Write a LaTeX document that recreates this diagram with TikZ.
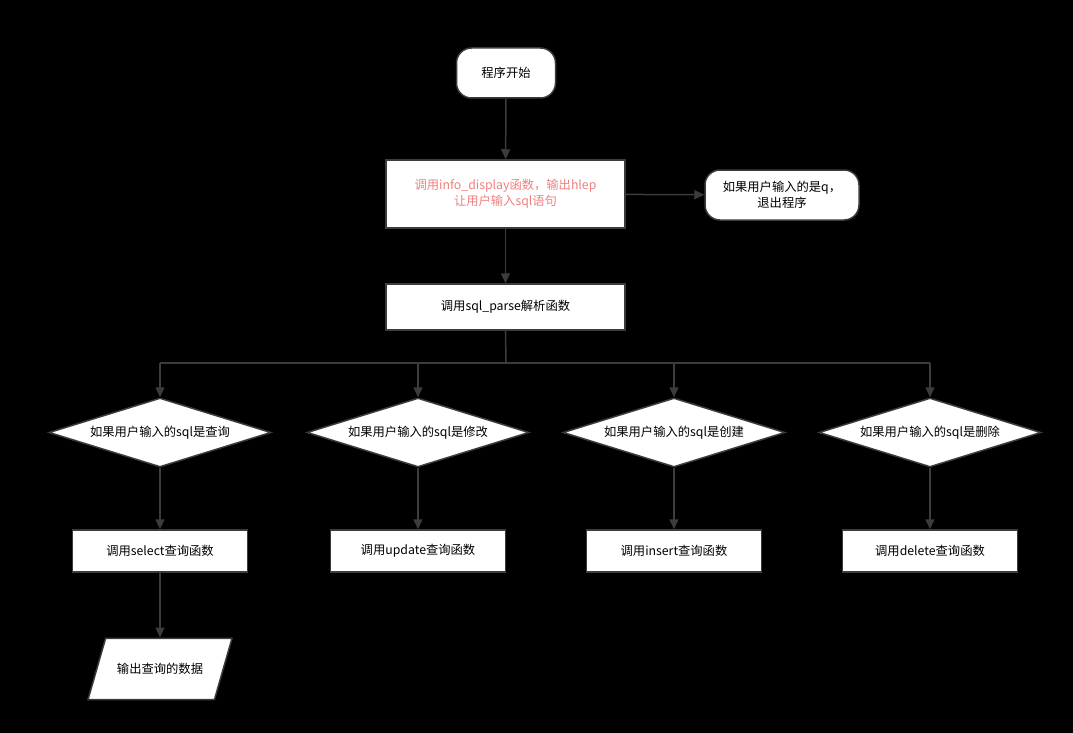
\documentclass[tikz,border=0pt]{standalone}
\usepackage{fontspec}
\setmainfont{Noto Sans CJK SC}
\usetikzlibrary{arrows.meta,shapes.geometric}
\definecolor{ln}{HTML}{3C3C3C}
\definecolor{redtxt}{HTML}{F08080}
\begin{document}
\begin{tikzpicture}[x=1pt,y=-1pt,
  every node/.style={font=\fontsize{12.3}{16}\selectfont, text=black},
  base/.style={draw=ln, line width=1.5pt, fill=white, align=center, inner sep=0pt},
  term/.style={base, rounded corners=15pt},
  proc/.style={base, rounded corners=0pt},
  dec/.style={base, diamond, aspect=3.22, minimum width=222pt, minimum height=69pt},
  io/.style={base, trapezium, trapezium left angle=74, trapezium right angle=106, trapezium stretches body, inner xsep=2pt, inner ysep=25pt, minimum width=144pt},
  conn/.style={draw=ln, line width=1.5pt, -{Triangle[width=9pt,length=10pt]}},
  line/.style={draw=ln, line width=1.5pt}]
\fill[black] (0,0) rectangle (1073,733);
\useasboundingbox (0,0) rectangle (1073,733);

\node[term, minimum width=99pt, minimum height=50pt] (start) at (506,73) {程序开始};
\node[proc, minimum width=239pt, minimum height=68pt, text=redtxt] (info) at (505.5,194) {调用info\_display函数，输出hlep\\让用户输入sql语句};
\node[term, minimum width=154pt, minimum height=50pt] (quit) at (782,195) {如果用户输入的是q，\\退出程序};
\node[proc, minimum width=239pt, minimum height=46pt] (parse) at (505.5,307) {调用sql\_parse解析函数};

\foreach \n/\x/\t/\f in {1/160/查询/select,2/418/修改/update,3/674/创建/insert,4/930/删除/delete}{
  \node[dec] (d\n) at (\x,432.5) {如果用户输入的sql是\t};
  \node[proc, minimum width=175pt, minimum height=42pt] (b\n) at (\x,551) {调用\f 查询函数};
}
\node[io] (out) at (160,669) {输出查询的数据};
\coordinate (split) at (506,363);

\draw[conn] (start) -- (info);
\draw[conn] (info) -- (quit);
\draw[conn] (info) -- (parse);
\draw[line] (parse.south) -- (split);
\draw[line] (d1.north |- split) -- (d4.north |- split);
\foreach \n in {1,2,3,4}{
  \draw[conn] (d\n.north |- split) -- (d\n.north);
  \draw[conn] (d\n.south) -- (b\n);
}
\draw[conn] (b1) -- (out);
\end{tikzpicture}
\end{document}
